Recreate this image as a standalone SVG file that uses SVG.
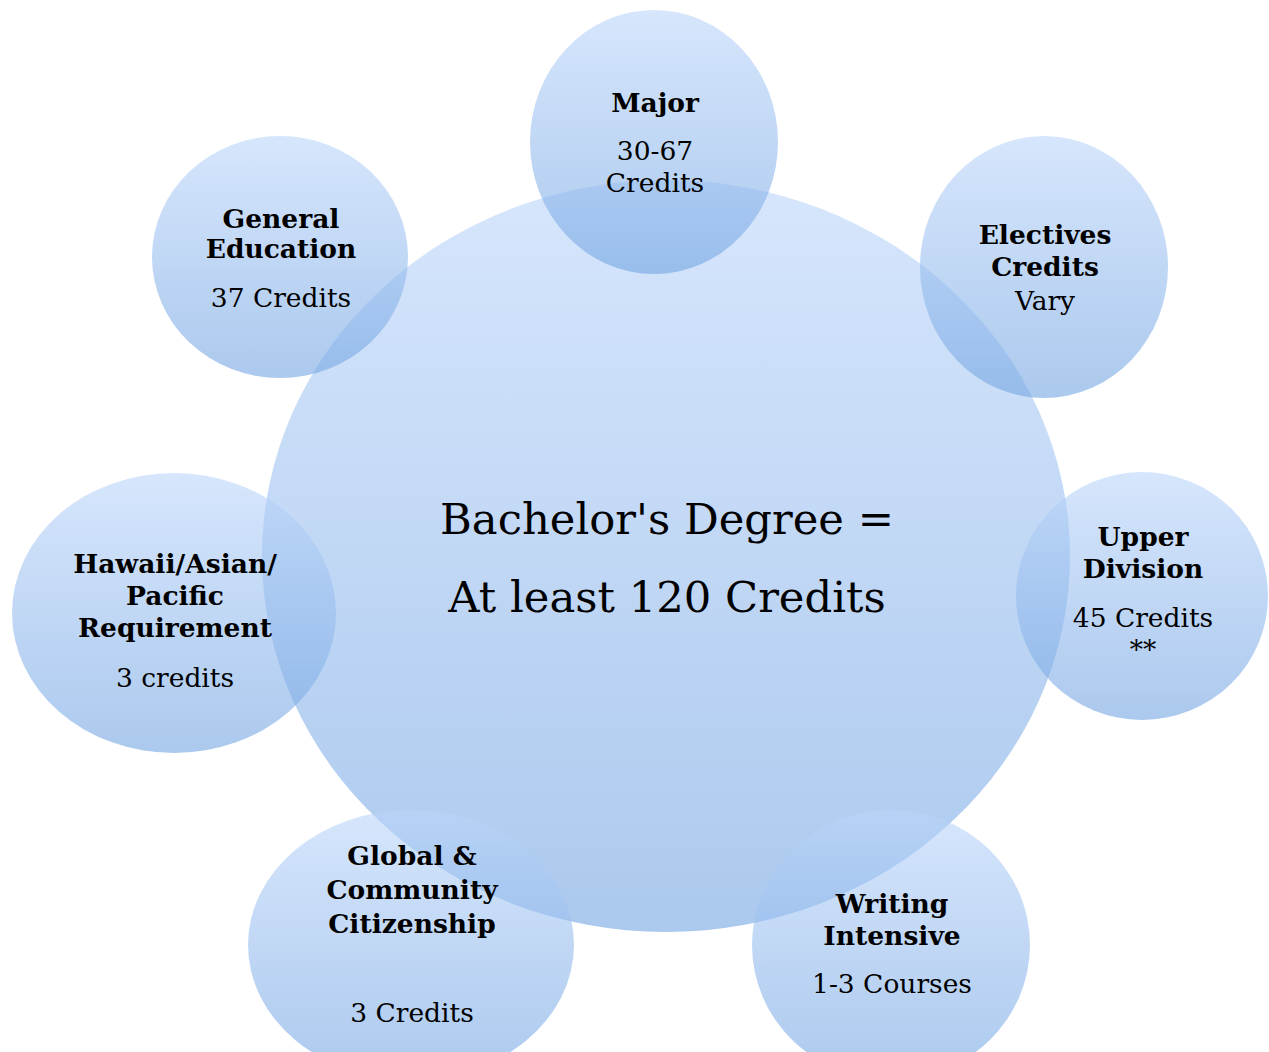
<svg xmlns="http://www.w3.org/2000/svg" width="1269" height="1052" viewBox="0 0 1269 1052">
<defs>
<linearGradient id="g" x1="0" y1="0" x2="0" y2="1">
<stop offset="0" stop-color="#bbd5fa"/>
<stop offset="1" stop-color="#73a5e2"/>
</linearGradient>
<style>
.s{fill:url(#g);fill-opacity:0.6;stroke:none}
text{font-family:"DejaVu Serif","Liberation Serif",serif;fill:#000;text-anchor:middle}
.b{font-weight:bold;font-size:26.5px}
.r{font-size:26.5px}
.c{font-size:43.3px}
</style>
</defs>
<rect width="1269" height="1052" fill="#fff"/>
<g id="center">
<ellipse class="s" cx="666" cy="556" rx="404" ry="376"/>
<text class="c" x="667" y="534">Bachelor's Degree =</text>
<text class="c" x="667" y="612">At least 120 Credits</text>
</g>
<g id="major">
<ellipse class="s" cx="654" cy="142" rx="124" ry="132"/>
<text class="b" x="655" y="112">Major</text>
<text class="r" x="655" y="160">30-67</text>
<text class="r" x="655" y="192">Credits</text>
</g>
<g id="general-education">
<ellipse class="s" cx="280" cy="257" rx="128" ry="121"/>
<text class="b" x="281" y="228">General</text>
<text class="b" x="281" y="258">Education</text>
<text class="r" x="281" y="307">37 Credits</text>
</g>
<g id="electives">
<ellipse class="s" cx="1044" cy="267" rx="124" ry="131"/>
<text class="b" x="1045" y="244">Electives</text>
<text class="b" x="1045" y="276">Credits</text>
<text class="r" x="1045" y="310">Vary</text>
</g>
<g id="upper-division">
<ellipse class="s" cx="1142" cy="596" rx="126" ry="124"/>
<text class="b" x="1143" y="546">Upper</text>
<text class="b" x="1143" y="578">Division</text>
<text class="r" x="1143" y="627">45 Credits</text>
<text class="r" x="1143" y="659">**</text>
</g>
<g id="writing-intensive">
<ellipse class="s" cx="891" cy="945" rx="139" ry="135"/>
<text class="b" x="892" y="913">Writing</text>
<text class="b" x="892" y="945">Intensive</text>
<text class="r" x="892" y="993">1-3 Courses</text>
</g>
<g id="global-community">
<ellipse class="s" cx="411" cy="945" rx="163" ry="135"/>
<text class="b" x="412" y="865">Global &amp;</text>
<text class="b" x="412" y="899">Community</text>
<text class="b" x="412" y="933">Citizenship</text>
<text class="r" x="412" y="1022">3 Credits</text>
</g>
<g id="hawaii">
<ellipse class="s" cx="174" cy="613" rx="162" ry="140"/>
<text class="b" x="175" y="573">Hawaii/Asian/</text>
<text class="b" x="175" y="605">Pacific</text>
<text class="b" x="175" y="637">Requirement</text>
<text class="r" x="175" y="687">3 credits</text>
</g>
<g id="connectors"></g>
</svg>
